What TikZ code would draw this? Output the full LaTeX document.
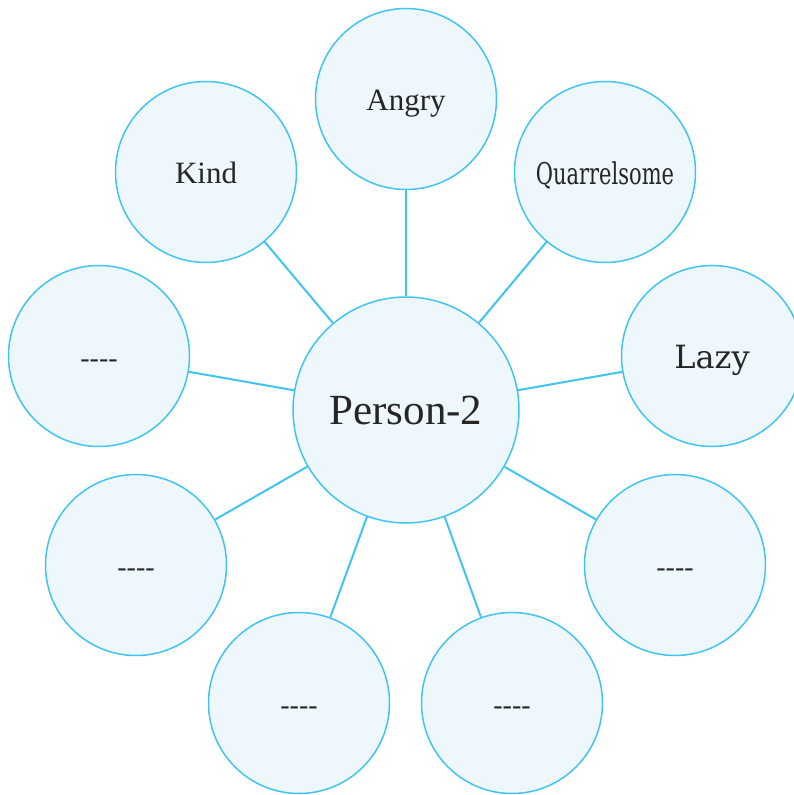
\documentclass[tikz,border=0pt]{standalone}
\usepackage{fontspec}
\usepackage{graphicx}
\setmainfont{Liberation Serif}
\newfontfamily\slabfont{DejaVu Serif}
\usetikzlibrary{positioning,calc}
\definecolor{bubbleline}{RGB}{66,196,240}
\definecolor{bubblefill}{RGB}{238,247,252}
\newcommand{\blank}{{-}{-}{-}{-}}

\begin{document}
\begin{tikzpicture}[x=1pt,y=1pt,
    bubble/.style={draw=bubbleline, fill=bubblefill, circle, line width=1.5pt, minimum size=181pt, inner sep=0pt, text=black!85, text height=24pt, text depth=0pt},
    hub/.style={bubble, minimum size=226pt, text height=30pt},
    spoke/.style={bubbleline, line width=2pt}]
    \useasboundingbox (0,0) rectangle (794,795);
    \node[hub, font=\fontsize{43}{47}\selectfont] (person) at (406,385) {Person-2};
    \node[bubble, font=\fontsize{31}{34}\selectfont] (angry) at (406,696) {Angry};
    \node[bubble, font=\fontsize{31}{34}\selectfont] (kind) at (206,623) {Kind};
    \node[bubble, font=\fontsize{30}{34}\slabfont, text height=26pt] (quarrel) at (605,623) {\scalebox{0.7}[1]{Quarrelsome}};
    \node[bubble, font=\fontsize{32}{36}\slabfont, text height=26pt] (lazy) at (712,439) {Lazy};
    \node[bubble, font=\fontsize{28}{32}\selectfont] (dashA) at (99,439) {\blank};
    \node[bubble, font=\fontsize{28}{32}\selectfont] (dashB) at (136,230) {\blank};
    \node[bubble, font=\fontsize{28}{32}\selectfont] (dashC) at (299,92) {\blank};
    \node[bubble, font=\fontsize{28}{32}\selectfont] (dashD) at (512,92) {\blank};
    \node[bubble, font=\fontsize{28}{32}\selectfont] (dashE) at (675,230) {\blank};
    % spokes
    \foreach \outer in {angry,kind,quarrel,lazy,dashA,dashB,dashC,dashD,dashE}
        \draw[spoke] (person) -- (\outer);
\end{tikzpicture}
\end{document}
